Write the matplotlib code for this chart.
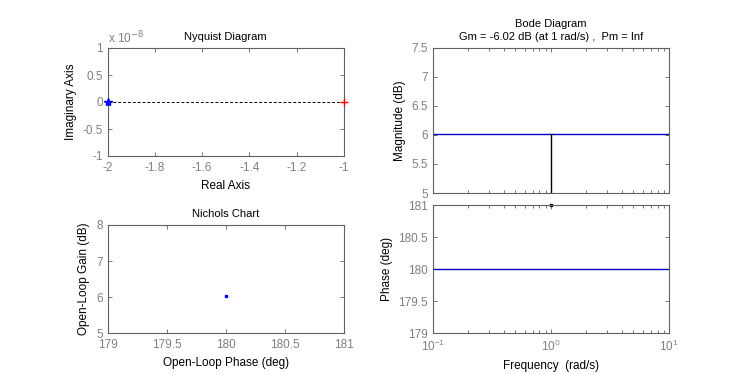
import numpy as np
import matplotlib
matplotlib.use("Agg")
import matplotlib.pyplot as plt
from matplotlib.ticker import FuncFormatter, LogLocator, NullFormatter

plt.rcParams['font.family'] = ['Liberation Sans', 'DejaVu Sans']
plt.rcParams['font.size'] = 8

# data
gain_db = 6.02          # magnitude of the static gain
phase_deg = 180.0       # phase of the static gain
w_cross = 1.0           # frequency of the gain margin marker
nyq_point = -2.0        # nyquist curve collapses to one point
critical_point = -1.0
freq = [0.1, 1.0, 10.0]
mag = [gain_db, gain_db, gain_db]
phase = [phase_deg, phase_deg, phase_deg]

tick_gray = '#808080'
spine_gray = '#606060'


def style(ax):
    for s in ax.spines.values():
        s.set_color(spine_gray)
        s.set_linewidth(0.8)
    ax.tick_params(which='both', direction='in', top=True, right=True,
                   colors=spine_gray, labelcolor=tick_gray, labelsize=8.5,
                   length=3, width=0.6)
    ax.tick_params(axis='x', pad=4.5)
    ax.tick_params(which='minor', length=2)


fig = plt.figure(figsize=(7.4, 3.75), dpi=100)

# Nyquist
ax1 = fig.add_axes([0.1453, 0.584, 0.3196, 0.288])
ax1.axhline(0, color='k', ls='--', lw=0.7, dashes=(3, 2))
ax1.plot([nyq_point, nyq_point + 0.01], [0, 0], color='b', lw=1.2)
ax1.plot([nyq_point], [0], marker='*', color='b', ms=6, clip_on=False,
         zorder=5)
ax1.plot([critical_point], [0], marker='+', color='r', ms=6, mew=1,
         clip_on=False, zorder=5)
ax1.set_xlim(-2, -1)
ax1.set_ylim(-1e-8, 1e-8)
ax1.set_xticks(np.arange(-2, -0.99, 0.2))
ax1.set_xticklabels(['-2', '-1.8', '-1.6', '-1.4', '-1.2', '-1'])
ax1.set_yticks(np.arange(-1e-8, 1.01e-8, 0.5e-8))
ax1.yaxis.set_major_formatter(FuncFormatter(
    lambda v, p: '%g' % round(v / 1e-8, 2)))
ax1.text(0.0, 1.02, r'x 10$^{-8}$', transform=ax1.transAxes,
         color=tick_gray, fontsize=8.5, va='bottom', ha='left')
ax1.set_title('Nyquist Diagram', fontsize=8, pad=6)
ax1.set_xlabel('Real Axis', fontsize=8.5)
ax1.set_ylabel('Imaginary Axis', fontsize=8.5)
style(ax1)

# Nichols
ax2 = fig.add_axes([0.1453, 0.112, 0.3196, 0.288])
ax2.plot([phase_deg], [gain_db], marker='s', color='b', ms=2)
ax2.set_xlim(179, 181)
ax2.set_ylim(5, 8)
ax2.set_xticks([179, 179.5, 180, 180.5, 181])
ax2.set_xticklabels(['179', '179.5', '180', '180.5', '181'])
ax2.set_yticks([5, 6, 7, 8])
ax2.set_title('Nichols Chart', fontsize=8, pad=6)
ax2.set_xlabel('Open-Loop Phase (deg)', fontsize=8.5)
ax2.set_ylabel('Open-Loop Gain (dB)', fontsize=8.5)
style(ax2)

# Bode magnitude
ax3 = fig.add_axes([0.585, 0.4853, 0.319, 0.387])
ax3.semilogx(freq, mag, color='#0000c8', lw=1)
ax3.plot([w_cross, w_cross], [5, gain_db], color='k', lw=1)
ax3.set_xlim(0.1, 10)
ax3.set_ylim(5, 7.5)
ax3.set_yticks([5, 5.5, 6, 6.5, 7, 7.5])
ax3.set_yticklabels(['5', '5.5', '6', '6.5', '7', '7.5'])
ax3.xaxis.set_major_locator(LogLocator(base=10))
ax3.xaxis.set_minor_locator(LogLocator(base=10, subs=np.arange(2, 10)))
ax3.xaxis.set_major_formatter(NullFormatter())
ax3.xaxis.set_minor_formatter(NullFormatter())
ax3.set_ylabel('Magnitude (dB)', fontsize=8.5)
ax3.set_title('Bode Diagram\nGm = -6.02 dB (at 1 rad/s) ,  Pm = Inf',
              fontsize=8, pad=6, linespacing=1.3)
style(ax3)

# Bode phase
ax4 = fig.add_axes([0.585, 0.112, 0.319, 0.341])
ax4.semilogx(freq, phase, color='#0000c8', lw=1)
ax4.plot([w_cross], [181], marker='s', color='k', ms=1.8, clip_on=False)
ax4.set_xlim(0.1, 10)
ax4.set_ylim(179, 181)
ax4.set_yticks([179, 179.5, 180, 180.5, 181])
ax4.set_yticklabels(['179', '179.5', '180', '180.5', '181'])
ax4.xaxis.set_major_locator(LogLocator(base=10))
ax4.xaxis.set_minor_locator(LogLocator(base=10, subs=np.arange(2, 10)))
ax4.xaxis.set_minor_formatter(NullFormatter())
ax4.set_xlabel('Frequency  (rad/s)', fontsize=8.5)
ax4.set_ylabel('Phase (deg)', fontsize=8.5)
style(ax4)

fig.savefig('out.png', dpi=100)
